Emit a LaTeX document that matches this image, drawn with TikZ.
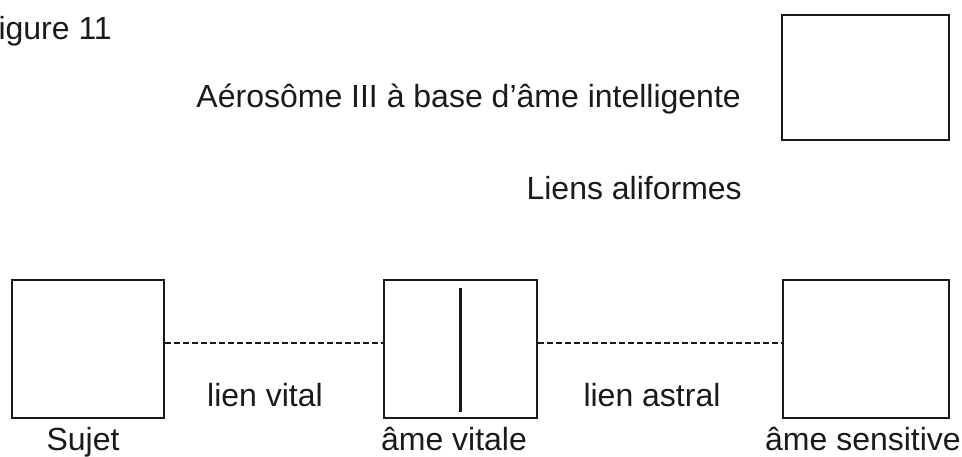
\documentclass[tikz,border=0pt]{standalone}
\usepackage{fontspec}
\setmainfont{Liberation Sans}
\usetikzlibrary{calc}
\definecolor{BLACK}{HTML}{1A1A1A}
\tikzset{
    box/.style={draw=BLACK, line width=2pt, inner sep=0pt},
    txt/.style={BLACK, inner sep=0pt, font=\fontsize{32}{36}\selectfont},
    lien/.style={BLACK, line width=1.5pt, dash pattern=on 6pt off 3pt}
}
\begin{document}
\begin{tikzpicture}[x=1pt, y=-1pt]
    \useasboundingbox (0,0) rectangle (962,457);
    % titles
    \node[txt, anchor=base east] (fig) at (112,40) {Figure 11};
    \node[txt, anchor=base east] (aero) at (741,108) {Aérosôme III à base d’âme intelligente};
    \node[txt, anchor=base east] (ali) at (742,200) {Liens aliformes};
    % boxes
    \node[box, minimum width=167pt, minimum height=125pt] (intel) at (865.5,77.5) {};
    \node[box, minimum width=152pt, minimum height=138pt] (sujet) at (88,349) {};
    \node[box, minimum width=153pt, minimum height=138pt] (vitale) at (460.5,349) {};
    \node[box, minimum width=166pt, minimum height=138pt] (sensitive) at (866,349) {};
    \draw[BLACK, line width=2.2pt] ([yshift=-9pt]vitale.north) -- ([yshift=7pt]vitale.south);
    % links
    \draw[lien] ([yshift=6pt]sujet.east) -- ([yshift=6pt]vitale.west);
    \draw[lien] ([yshift=6pt]vitale.east) -- ([yshift=6pt]sensitive.west);
    \node[txt, anchor=base] (vital) at (265,406) {lien vital};
    \node[txt, anchor=base] (astral) at (652,406) {lien astral};
    % names
    \node[txt, anchor=base] (nsujet) at (83,450) {Sujet};
    \node[txt, anchor=base] (nvitale) at (454,450) {âme vitale};
    \node[txt, anchor=base] (nsensitive) at (863,450) {âme sensitive};
\end{tikzpicture}
\end{document}
